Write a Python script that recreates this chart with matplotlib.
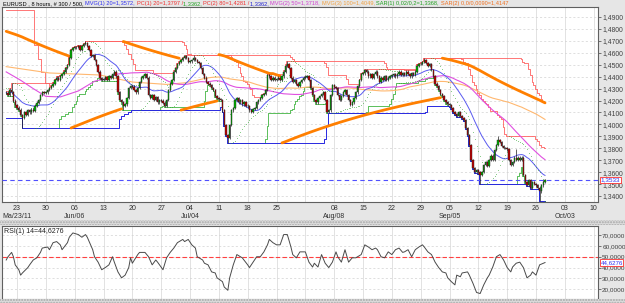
import numpy as np
import pandas as pd
import matplotlib
matplotlib.use('Agg')
import matplotlib.pyplot as plt
import matplotlib.transforms as mtransforms
from matplotlib.patches import Rectangle

# EURUSD 8h closes, one list per week (Sunday bar + Mon..Fri, 3 bars a day)
closePre = [1.4265, 1.4250, 1.4290, 1.4270, 1.4200, 1.4160]
closeWeeks = [
  [1.4140, 1.4124, 1.4079, 1.4054, 1.4100, 1.4079, 1.4120, 1.4100, 1.4124, 1.4112, 1.4155, 1.4180, 1.4204, 1.4246, 1.4270, 1.4263],
  [1.4270, 1.4288, 1.4305, 1.4322, 1.4340, 1.4372, 1.4390, 1.4372, 1.4405, 1.4422, 1.4440, 1.4473, 1.4498, 1.4556, 1.4623, 1.4640],
  [1.4645, 1.4649, 1.4657, 1.4623, 1.4657, 1.4674, 1.4682, 1.4657, 1.4623, 1.4573, 1.4582, 1.4540, 1.4498, 1.4440, 1.4389, 1.4372],
  [1.4380, 1.4397, 1.4372, 1.4405, 1.4390, 1.4422, 1.4440, 1.4405, 1.4270, 1.4204, 1.4187, 1.4155, 1.4170, 1.4221, 1.4305, 1.4322],
  [1.4315, 1.4288, 1.4270, 1.4305, 1.4355, 1.4390, 1.4405, 1.4422, 1.4390, 1.4246, 1.4221, 1.4246, 1.4204, 1.4230, 1.4187, 1.4204],
  [1.4200, 1.4180, 1.4155, 1.4204, 1.4288, 1.4340, 1.4372, 1.4440, 1.4473, 1.4506, 1.4523, 1.4540, 1.4556, 1.4573, 1.4556, 1.4523],
  [1.4530, 1.4540, 1.4556, 1.4540, 1.4523, 1.4515, 1.4473, 1.4422, 1.4390, 1.4355, 1.4340, 1.4330, 1.4305, 1.4288, 1.4238, 1.4221],
  [1.4210, 1.4204, 1.4120, 1.3995, 1.3911, 1.3886, 1.3995, 1.4120, 1.4137, 1.4204, 1.4221, 1.4187, 1.4204, 1.4170, 1.4187, 1.4155],
  [1.4150, 1.4120, 1.4104, 1.4129, 1.4137, 1.4187, 1.4204, 1.4221, 1.4246, 1.4255, 1.4288, 1.4414, 1.4405, 1.4372, 1.4390, 1.4372],
  [1.4380, 1.4390, 1.4372, 1.4405, 1.4440, 1.4490, 1.4506, 1.4473, 1.4390, 1.4355, 1.4372, 1.4340, 1.4322, 1.4355, 1.4372, 1.4390],
  [1.4400, 1.4405, 1.4372, 1.4305, 1.4246, 1.4204, 1.4187, 1.4221, 1.4238, 1.4255, 1.4270, 1.4204, 1.4104, 1.4120, 1.4246, 1.4330],
  [1.4310, 1.4305, 1.4246, 1.4204, 1.4238, 1.4270, 1.4288, 1.4246, 1.4204, 1.4163, 1.4187, 1.4221, 1.4270, 1.4322, 1.4372, 1.4422],
  [1.4430, 1.4456, 1.4440, 1.4405, 1.4422, 1.4390, 1.4422, 1.4440, 1.4405, 1.4355, 1.4390, 1.4372, 1.4405, 1.4372, 1.4390, 1.4405],
  [1.4410, 1.4422, 1.4405, 1.4422, 1.4440, 1.4414, 1.4430, 1.4414, 1.4440, 1.4422, 1.4405, 1.4430, 1.4414, 1.4440, 1.4490, 1.4506],
  [1.4510, 1.4523, 1.4540, 1.4515, 1.4490, 1.4506, 1.4456, 1.4405, 1.4340, 1.4322, 1.4288, 1.4255, 1.4238, 1.4204, 1.4187, 1.4170],
  [1.4160, 1.4137, 1.4104, 1.4087, 1.4070, 1.4104, 1.4070, 1.4054, 1.4037, 1.3970, 1.3911, 1.3827, 1.3702, 1.3635, 1.3601, 1.3618],
  [1.3600, 1.3576, 1.3601, 1.3660, 1.3685, 1.3652, 1.3702, 1.3736, 1.3702, 1.3785, 1.3827, 1.3869, 1.3853, 1.3819, 1.3802, 1.3802],
  [1.3790, 1.3702, 1.3660, 1.3685, 1.3719, 1.3702, 1.3719, 1.3702, 1.3719, 1.3576, 1.3517, 1.3492, 1.3534, 1.3467, 1.3517, 1.3500],
  [1.3490, 1.3470, 1.3440, 1.3490, 1.3520, 1.3533],
]
# wick extremes that stick out of the bodies
highOverride = {3: 1.4347, 44: 1.4695, 104: 1.4580, 156: 1.4535, 232: 1.4555, 273: 1.3900, 283: 1.3797}
lowOverride = {9: 1.3970, 65: 1.4120, 123: 1.3845, 263: 1.3500, 296: 1.3362}

# warm-up values (the bars before the first one shown)
ma50HeadBars = [0, 8, 15, 22, 30, 40]
ma50HeadVals = [1.4440, 1.4370, 1.4300, 1.4235, 1.4230, 1.4280]
ma100HeadBars = [0, 24, 52, 70, 89]
ma100HeadVals = [1.4484, 1.4431, 1.4414, 1.4355, 1.4335]
pc2HeadEdges = [0, 16, 18, 20, 22]
pc2HeadHigh = [1.4955, 1.4665, 1.4550, 1.4440]
pc2HeadLowEnd = 9
pc2HeadLow = 1.4054

# RSI(14)
rsiBars = [0, 1, 3, 4, 5, 7, 8, 9, 12, 13, 15, 17, 19, 20, 23, 24, 26, 28, 30, 31, 34, 35, 37, 40, 42, 44, 45, 48, 49,
           51, 53, 55, 57, 59, 60, 62, 64, 66, 68, 69, 70, 73, 74, 77, 79, 81, 83, 84, 87, 89, 91, 93, 95, 98, 99,
           101, 103, 105, 106, 109, 110, 112, 114, 116, 117, 120, 121, 123, 124, 126, 128, 130, 131, 134, 135, 137,
           139, 141, 143, 145, 146, 148, 150, 152, 154, 156, 158, 159, 161, 163, 166, 168, 170, 171, 173, 175, 177,
           179, 181, 183, 184, 186, 188, 190, 192, 194, 195, 197, 199, 201, 203, 205, 206, 208, 210, 212, 214, 216,
           218, 220, 221, 223, 225, 227, 229, 231, 232, 234, 236, 238, 240, 242, 244, 245, 247, 249, 250, 252, 253,
           256, 257, 259, 261, 263, 265, 267, 268, 270, 272, 274, 276, 278, 280, 281, 283, 285, 287, 289, 291, 292,
           294, 296, 299]
rsiVals = [47, 50, 54, 50, 42.5, 38, 33, 35, 40, 42.5, 47, 49, 54, 58, 59, 56.5, 63, 64, 61, 56.5, 63, 68, 72, 70.5, 68, 70.5, 68, 56.5, 50,
           45, 38, 40, 42.5, 50, 45, 36, 30.5, 33, 40, 49, 44, 52, 54, 54, 50, 42.5, 47, 45, 38, 49, 54, 58, 63, 66, 64,
           66, 61, 58, 50, 47, 44, 42.5, 36, 35, 30.5, 27, 22, 19, 30.5, 42.5, 52, 50, 49, 42.5, 40, 45,
           50, 50, 54.5, 61, 66, 63, 61, 61, 70.5, 70.5, 59, 52, 49, 54.5, 54.5, 45, 40.5, 44, 40.5, 52, 44,
           40, 45, 54.5, 50, 45, 56.5, 45, 49, 49, 50, 52, 61, 59, 56.5, 58, 56.5, 50, 49, 54.5, 52, 56.5,
           58, 54, 54.5, 56.5, 50, 56.5, 59, 61, 59, 54.5, 52, 45, 40, 36, 35, 30.5, 27, 24, 33, 31.5, 35,
           36, 33, 25.5, 17, 16, 24, 30.5, 33, 40.5, 50, 52, 47, 40, 36, 40.5, 44, 45, 40, 30.5, 33, 36,
           33, 42.5, 44.6276]

dayLabels = ['23', '30', '06', '13', '20', '27', '04', '11', '18', '25', '', '08', '15', '22', '29', '05', '12', '19', '26', '03', '10']
monthLabels = {0: 'Ma/23/11', 2: 'Jun/06', 6: 'Jul/04', 11: 'Aug/08', 15: 'Sep/05', 19: 'Oct/03'}
priceTicks = [1.49, 1.48, 1.47, 1.46, 1.45, 1.44, 1.43, 1.42, 1.41, 1.40, 1.39, 1.38, 1.37, 1.36, 1.35, 1.34]
rsiTicks = [70, 60, 50, 40, 30, 20]

titleParts = [
  ('EURUSD , 8 hours, # 300 / 500, ', '#000000'),
  ('MVG(1) 20=1,3572, ', '#3030F0'),
  ('PC(1) 20=1,3797 /', '#F03030'),
  ('1,3362, ', '#20A020'),
  ('PC(2) 80=1,4281 /', '#F03030'),
  ('1,3362, ', '#2020D0'),
  ('MVG(2) 50=1,3718, ', '#D040D0'),
  ('MVG(3) 100=1,4049, ', '#F0A040'),
  ('SAR(1) 0,02/0,2=1,3368, ', '#20A020'),
  ('SAR(2) 0,0/0,0090=1,4147', '#F07020'),
]

close = np.array(closePre + sum(closeWeeks, []))
nBars = len(close)
bars = np.arange(nBars)
wick = 0.0012
openP = np.r_[close[0], close[:-1]]
high = np.maximum(openP, close) + wick
low = np.minimum(openP, close) - wick
for b, v in highOverride.items():
  high[b] = v
for b, v in lowOverride.items():
  low[b] = v

sClose = pd.Series(close)
ma20 = sClose.rolling(20, min_periods=1).mean().to_numpy()
ma50 = sClose.rolling(50).mean().to_numpy()
ma100 = sClose.rolling(100).mean().to_numpy()

pc1Hi = pd.Series(high).rolling(21, min_periods=1).max().to_numpy()
pc1Lo = pd.Series(low).rolling(21, min_periods=1).min().to_numpy()
pc2Hi = pd.Series(high).rolling(54, min_periods=1).max().to_numpy()
pc2Lo = pd.Series(low).rolling(54, min_periods=1).min().to_numpy()
for k in range(len(pc2HeadHigh)):
  sl = slice(pc2HeadEdges[k], pc2HeadEdges[k+1])
  pc2Hi[sl] = np.maximum(pc2Hi[sl], pc2HeadHigh[k])
pc2Lo[:pc2HeadLowEnd] = np.minimum(pc2Lo[:pc2HeadLowEnd], pc2HeadLow)


def parabolicSAR(hi, lo, afStart, afStep, afMax, up, sar, ep):
  out = np.zeros(len(hi))
  trend = np.zeros(len(hi), dtype=bool)
  af = afStart
  for i in range(len(hi)):
    if up and lo[i] < sar:
      up, sar, ep, af = False, ep, lo[i], afStart
    elif (not up) and hi[i] > sar:
      up, sar, ep, af = True, ep, hi[i], afStart
    out[i] = sar
    trend[i] = up
    if up and hi[i] > ep:
      ep = hi[i]
      af = min(af + afStep, afMax)
    elif (not up) and lo[i] < ep:
      ep = lo[i]
      af = min(af + afStep, afMax)
    sar = sar + af*(ep - sar)
    j = max(i-1, 0)
    if up:
      sar = min(sar, lo[i], lo[j])
    else:
      sar = max(sar, hi[i], hi[j])
  return out, trend


sar1, sar1Up = parabolicSAR(high, low, 0.02, 0.02, 0.2, False, high[:3].max(), low[0])
sar2, sar2Up = parabolicSAR(high, low, 0.009, 0.0, 0.009, False, 1.4780, 1.4200)

W, H = 625, 303
plt.rcParams['font.family'] = ['Liberation Sans Narrow', 'Liberation Sans', 'DejaVu Sans']
fig = plt.figure(figsize=(W/100, H/100), dpi=100, facecolor='#E6E6E6')

def frac(x0, y0, x1, y1):
  return [x0/W, 1-y1/H, (x1-x0)/W, (y1-y0)/H]

# stippled strips under the date band and under the RSI panel
for y0, y1 in [(220, 225), (299, 303)]:
  fig.patches.append(Rectangle((0, 1-y1/H), 1, (y1-y0)/H, transform=fig.transFigure, facecolor='#DCDCDC',
                               edgecolor='#A8A8A8', hatch='......', lw=0, zorder=0))

ax = fig.add_axes(frac(2, 7, 598, 202))
axr = fig.add_axes(frac(2, 226, 598, 299), sharex=ax)
xlo, xhi = -2.33, 328.4

for a in (ax, axr):
  a.set_facecolor('white')
  for sp in a.spines.values():
    sp.set_color('#606060')
    sp.set_linewidth(0.8)
  a.yaxis.tick_right()
  a.tick_params(axis='y', length=2, width=0.5, colors='#404040', labelsize=4.9, pad=1)
  a.tick_params(axis='x', length=0, labelbottom=False)
  for k in range(len(dayLabels)):
    a.axvline(6 + 16*k, color='#DDDDDD', lw=0.6, zorder=0)
axr.tick_params(axis='y', labelsize=4.6)

ax.set_xlim(xlo, xhi)
ax.set_ylim(1.33497, 1.49838)
ax.set_yticks(priceTicks)
ax.set_yticklabels([f'{v:.4f}'.replace('.', ',') for v in priceTicks])
for v in priceTicks:
  ax.axhline(v, color='#D2D2D2', lw=0.5, ls=(0, (3, 3)), zorder=0)

# indicators
ax.plot(bars, pc2Hi, color='#FF6060', lw=0.6, drawstyle='steps-mid', zorder=2)
ax.plot(bars, pc1Hi, color='#FF6060', lw=0.6, drawstyle='steps-mid', zorder=2)
ax.plot(bars, pc1Lo, color='#40B440', lw=0.6, drawstyle='steps-mid', zorder=2)
ax.plot(bars, pc2Lo, color='#2828E0', lw=0.7, drawstyle='steps-mid', zorder=2)
ax.plot(np.r_[ma100HeadBars, bars[99:]], np.r_[ma100HeadVals, ma100[99:]], color='#FFB870', lw=0.8, zorder=2)
ax.plot(np.r_[ma50HeadBars, bars[49:]], np.r_[ma50HeadVals, ma50[49:]], color='#E050E0', lw=0.8, zorder=2)
ax.plot(bars, ma20, color='#5A5AF0', lw=0.7, zorder=2)
ax.plot(bars, sar1, ls='none', marker='.', ms=0.9, mew=0, color='#22A022', zorder=3)

# thick SAR(2) line, broken where it flips side
runStart = 0
for i in range(1, nBars+1):
  if i == nBars or sar2Up[i] != sar2Up[i-1]:
    ax.plot(bars[runStart:i], sar2[runStart:i], color='#FF7F00', lw=2.0, solid_capstyle='round', zorder=2.5)
    runStart = i

# candles
up = close >= openP
ax.vlines(bars, low, high, color='#202020', lw=0.5, zorder=4)
ax.bar(bars[up], (close-openP)[up] + 1e-5, bottom=openP[up], width=0.75, color='#00B400', edgecolor='#202020', lw=0.3, zorder=5)
ax.bar(bars[~up], (openP-close)[~up] + 1e-5, bottom=close[~up], width=0.75, color='#C00000', edgecolor='#202020', lw=0.3, zorder=5)

lastPrice = close[-1]
ax.axhline(lastPrice, color='#5050FF', lw=0.8, ls=(0, (4, 3)), zorder=3)
trY = mtransforms.blended_transform_factory(ax.transAxes, ax.transData)
ax.text(1.004, lastPrice, f'{lastPrice:.4f}'.replace('.', ','), transform=trY, fontsize=4.6, color='#3030F0', va='center', ha='left',
        bbox=dict(boxstyle='square,pad=0.1', fc='white', ec='#FF3030', lw=0.6), zorder=6, clip_on=False)

# RSI panel
axr.set_ylim(10.95, 78.4)
axr.set_yticks(rsiTicks)
axr.set_yticklabels([f'{v:.4f}'.replace('.', ',') for v in rsiTicks])
for v in rsiTicks:
  axr.axhline(v, color='#D2D2D2', lw=0.5, ls=(0, (3, 3)), zorder=0)
axr.axhline(50, color='#FF4040', lw=0.8, ls=(0, (4, 2)), zorder=2)
axr.plot(rsiBars, rsiVals, color='#4A4A4A', lw=0.7, zorder=3)
lastRsi = rsiVals[-1]
trR = mtransforms.blended_transform_factory(axr.transAxes, axr.transData)
axr.text(1.004, lastRsi, f'{lastRsi:.4f}'.replace('.', ','), transform=trR, fontsize=4.4, color='#3030F0', va='center', ha='left',
         bbox=dict(boxstyle='square,pad=0.1', fc='white', ec='#FF3030', lw=0.6), zorder=6, clip_on=False)
axr.text(0.003, 0.97, f'RSI(1) 14={lastRsi:.4f}'.replace('.', ','), transform=axr.transAxes, fontsize=5.0, color='#202020', va='top', ha='left')

# date labels in the band between the panels
pxPerBar = (598 - 2)/(xhi - xlo)
for k, lab in enumerate(dayLabels):
  xp = 2 + (6 + 16*k - xlo)*pxPerBar
  fig.text(xp/W, 1-209/H, lab, fontsize=5.0, color='#303030', ha='center', va='center')
  if k in monthLabels:
    fig.text(xp/W, 1-217/H, monthLabels[k], fontsize=5.0, color='#303030', ha='center', va='center')

# coloured header line, sized so it ends where the original one does
fig.canvas.draw()
renderer = fig.canvas.get_renderer()
headerSize = 5.4
probe = [fig.text(0, 0, txt, fontsize=headerSize) for txt, col in titleParts]
total = sum(t.get_window_extent(renderer).width for t in probe)
for t in probe:
  t.remove()
headerSize = headerSize*505/total
xpos = 3/W
for txt, col in titleParts:
  t = fig.text(xpos, 1-4/H, txt, color=col, fontsize=headerSize, va='center', ha='left')
  xpos += t.get_window_extent(renderer).width/fig.bbox.width

fig.savefig('out.png', dpi=100, facecolor=fig.get_facecolor())
